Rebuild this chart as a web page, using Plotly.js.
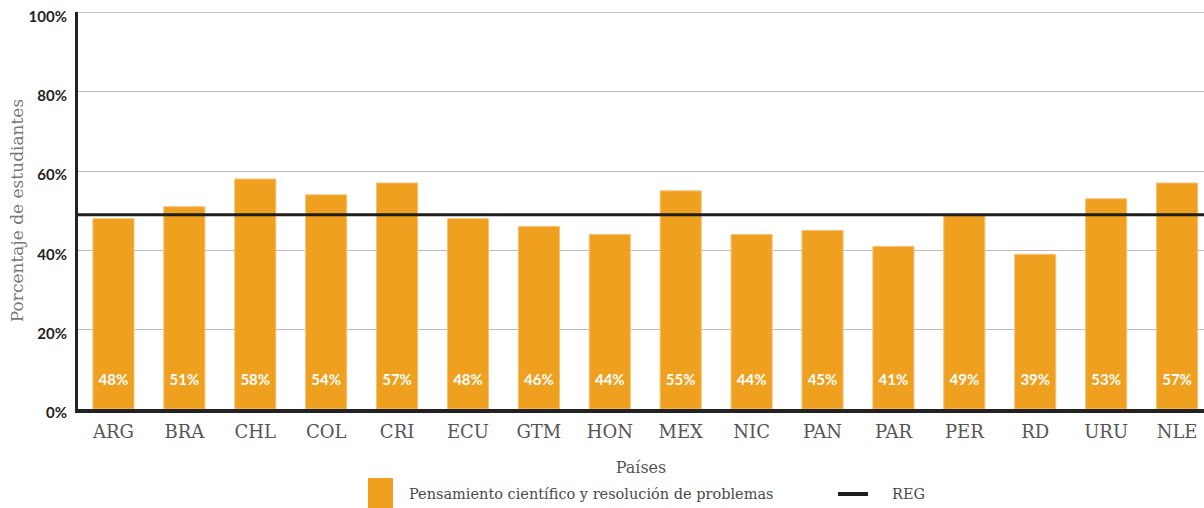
<!DOCTYPE html>
<html>
<head>
<meta charset="utf-8">
<script src="https://cdn.plot.ly/plotly-3.0.1.min.js"></script>
<style>
html,body{margin:0;padding:0;background:#fff;}
#chart{width:1204px;height:508px;}
</style>
</head>
<body>
<div id="chart"></div>
<script>
const countries = ["ARG","BRA","CHL","COL","CRI","ECU","GTM","HON","MEX","NIC","PAN","PAR","PER","RD","URU","NLE"];
const pensamiento = [48,51,58,54,57,48,46,44,55,44,45,41,49,39,53,57];
const regValue = 49;
const yTicks = [0,20,40,60,80,100];
const yTickLabels = ["0%","20%","40%","60%","80%","100%"];
const seriesName = "Pensamiento científico y resolución de problemas";
const regName = "REG";

const orange = "#EFA01E";
const serif = "DejaVu Serif, serif";
const sans = "Lato, sans-serif";

const bars = {
  type: "bar",
  x: countries,
  y: pensamiento,
  name: seriesName,
  marker: {color: orange, line: {color: "#f6c27a", width: 1}},
  width: 0.58,
  hoverinfo: "x+y",
  showlegend: false
};

const labels = {
  type: "scatter",
  mode: "text",
  x: countries,
  y: countries.map(() => 7),
  text: pensamiento.map(v => v + "%"),
  textfont: {family: sans, size: 15, color: "#ffffff", weight: "bold"},
  hoverinfo: "skip",
  showlegend: false
};

const layout = {
  width: 1204,
  height: 508,
  margin: {l: 78, r: 0, t: 12, b: 99},
  paper_bgcolor: "#fff",
  plot_bgcolor: "#fff",
  showlegend: false,
  xaxis: {
    type: "category",
    range: [-0.5, 15.38],
    showgrid: false,
    showline: true,
    linecolor: "#222",
    linewidth: 4,
    ticks: "outside",
    ticklen: 3,
    tickcolor: "rgba(0,0,0,0)",
    tickfont: {family: serif, size: 18, color: "#555"},
    title: {text: "Países", font: {family: serif, size: 16, color: "#555"}, standoff: 22},
    zeroline: false,
    fixedrange: true
  },
  yaxis: {
    range: [0, 100.1],
    tickvals: yTicks,
    ticktext: yTickLabels,
    showgrid: true,
    gridcolor: "#bdbdbd",
    gridwidth: 1,
    showline: true,
    linecolor: "#222",
    linewidth: 3,
    zeroline: false,
    ticks: "outside",
    ticklen: 5,
    tickcolor: "rgba(0,0,0,0)",
    ticklabelshift: 4,
    tickfont: {family: sans, size: 15, color: "#222", weight: "bold"},
    title: {text: "Porcentaje de estudiantes", font: {family: serif, size: 17, color: "#777"}, standoff: 1},
    fixedrange: true
  },
  shapes: [
    {type: "line", xref: "paper", yref: "y", x0: 0, x1: 1, y0: yTicks[yTicks.length-1], y1: yTicks[yTicks.length-1],
     line: {color: "#bdbdbd", width: 1}},
    {type: "line", xref: "paper", yref: "y", x0: 0, x1: 1, y0: regValue, y1: regValue,
     line: {color: "#1e1e1e", width: 3}},
    {type: "rect", xref: "paper", yref: "paper",
     x0: (368-78)/1126, x1: (393-78)/1126, y0: -99/397, y1: -(478-409)/397,
     fillcolor: orange, line: {width: 0}},
    {type: "line", xref: "paper", yref: "paper",
     x0: (838-78)/1126, x1: (868-78)/1126, y0: -(494-409)/397, y1: -(494-409)/397,
     line: {color: "#1e1e1e", width: 4}}
  ],
  annotations: [
    {xref: "paper", yref: "paper", x: (407-78)/1126, y: -(494-409)/397, xanchor: "left", yanchor: "middle",
     text: seriesName, showarrow: false, font: {family: serif, size: 14.5, color: "#4a4a4a"}},
    {xref: "paper", yref: "paper", x: (890-78)/1126, y: -(494-409)/397, xanchor: "left", yanchor: "middle",
     text: regName, showarrow: false, font: {family: serif, size: 14.5, color: "#4a4a4a"}}
  ]
};

Plotly.newPlot("chart", [bars, labels], layout, {displayModeBar: false, responsive: false});
</script>
</body>
</html>
